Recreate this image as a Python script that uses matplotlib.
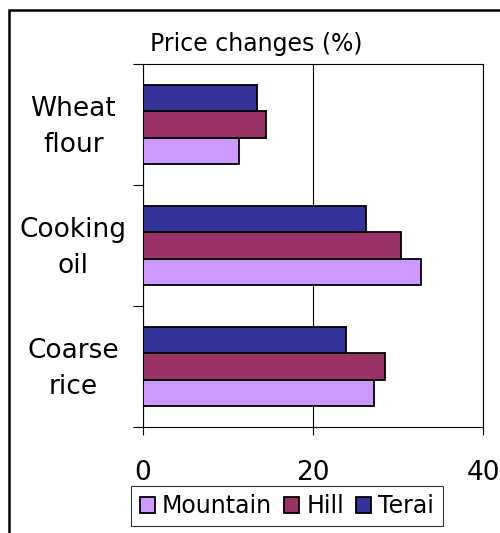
import numpy as np
import matplotlib
matplotlib.use("Agg")
import matplotlib.pyplot as plt
from matplotlib.patches import Rectangle

# data
categories = ["Wheat\nflour", "Cooking\noil", "Coarse\nrice"]
series_names = ["Mountain", "Hill", "Terai"]
mountain = [11.3, 32.7, 27.2]
hill = [14.5, 30.4, 28.5]
terai = [13.4, 26.2, 23.9]
x_ticks = [0, 20, 40]

colors = {"Mountain": "#CC99FF", "Hill": "#993366", "Terai": "#333399"}
offsets = {"Mountain": 0.22, "Hill": 0.0, "Terai": -0.22}
values = {"Mountain": mountain, "Hill": hill, "Terai": terai}

plt.rcParams["font.family"] = "DejaVu Sans"

W, H = 500, 533
fig = plt.figure(figsize=(W / 100, H / 100), dpi=100)

# outer chart border (runs off the right and bottom edges)
fig.patches.append(
    Rectangle((9 / W, -0.1), 1.2, 1 - 10 / H + 0.1, transform=fig.transFigure,
              fill=False, edgecolor="black", linewidth=1.8)
)

ax = fig.add_axes([143 / W, 1 - 427 / H, 340 / W, 363 / H])
ypos = np.arange(len(categories))

for name in series_names:
    ax.barh(ypos + offsets[name], values[name], height=0.22,
            color=colors[name], edgecolor="black", linewidth=1.3,
            label=name, zorder=3)

ax.set_xlim(0, 40)
ax.set_ylim(2.5, -0.5)
ax.set_xticks(x_ticks)
ax.set_xticklabels([str(t) for t in x_ticks], fontsize=19)
ax.tick_params(axis="x", direction="out", length=6, width=0.8, pad=18)

# category ticks on the boundaries, labels at the centres
ax.set_yticks([-0.5, 0.5, 1.5, 2.5])
ax.set_yticklabels([])
ax.tick_params(axis="y", direction="out", length=7, width=0.8)
for i, lab in enumerate(categories):
    ax.text(-0.205, i + 0.02, lab, transform=ax.get_yaxis_transform(),
            ha="center", va="center", fontsize=19, linespacing=1.5)

ax.xaxis.grid(True, color="black", linewidth=0.8, zorder=0)
for s in ax.spines.values():
    s.set_linewidth(0.8)

fig.text(256 / W, 1 - 44 / H, "Price changes (%)", ha="center", va="center",
         fontsize=17)

ax.legend(loc="center", bbox_to_anchor=(287 / W, 1 - 506 / H),
          bbox_transform=fig.transFigure, ncol=3, fontsize=17,
          frameon=True, fancybox=False, edgecolor="black",
          handlelength=0.65, handleheight=0.65, handletextpad=0.3,
          columnspacing=0.5, borderpad=0.35, borderaxespad=0)
ax.get_legend().get_frame().set_linewidth(0.8)

fig.savefig("out.png", dpi=100)
